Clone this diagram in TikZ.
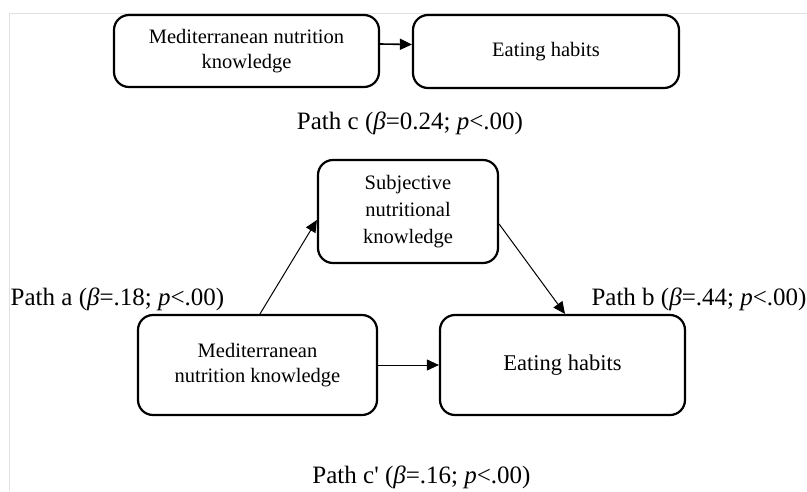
\documentclass[tikz,border=0pt]{standalone}
\usepackage{fontspec}
\setmainfont{Liberation Serif}[Ligatures=TeXOff]
\usetikzlibrary{positioning,arrows.meta}

\begin{document}
\begin{tikzpicture}[x=1pt, y=-1pt,
    box/.style={draw, line width=2.2pt, rounded corners=15pt, align=center, inner sep=0pt,
        font=\fontsize{20.5}{25}\selectfont},
    arr/.style={-{Triangle[length=12pt, width=11pt]}, line width=1pt},
    pathlbl/.style={anchor=base, inner sep=0pt, font=\fontsize{25}{30}\selectfont}]
    \useasboundingbox (0,0) rectangle (807,491);
    \draw[black!12, line width=1pt] (9,491) -- (9,13) -- (807,13);
    \node (mnk1)[box, minimum width=265pt, minimum height=72pt] at (246.5,51) {Mediterranean nutrition\\knowledge};
    \node (eh1)[box, minimum width=266pt, minimum height=73pt] at (546,51.5) {Eating habits};
    \node (snk)[box, minimum width=180pt, minimum height=103pt, font=\fontsize{20.5}{27}\selectfont] at (408,211.5) {Subjective\\nutritional\\knowledge};
    \node (mnk2)[box, minimum width=239pt, minimum height=100pt] at (257.5,365) {Mediterranean\\nutrition knowledge};
    \node (eh2)[box, minimum width=245pt, minimum height=100pt, font=\fontsize{22.5}{27}\selectfont] at (562.5,365) {Eating habits};
    \draw[arr, line width=1.6pt] ([yshift=7pt]mnk1.east) -- ([yshift=7pt]eh1.west);
    \draw[arr] ([xshift=2.5pt]mnk2.north) -- ([yshift=-8.5pt]snk.west);
    \draw[arr] ([yshift=-12.5pt]snk.east) -- ([xshift=2.5pt]eh2.north);
    \draw[arr] (mnk2.east) -- (eh2.west);
    \node (pc)[pathlbl] at (410,129) {Path c (\textit{β}=0.24; \textit{p}<.00)};
    \node (pa)[pathlbl] at (117.5,305) {Path a (\textit{β}=.18; \textit{p}<.00)};
    \node (pb)[pathlbl] at (699,305) {Path b (\textit{β}=.44; \textit{p}<.00)};
    \node (pcp)[pathlbl] at (421.5,483) {Path c' (\textit{β}=.16; \textit{p}<.00)};
\end{tikzpicture}
\end{document}
